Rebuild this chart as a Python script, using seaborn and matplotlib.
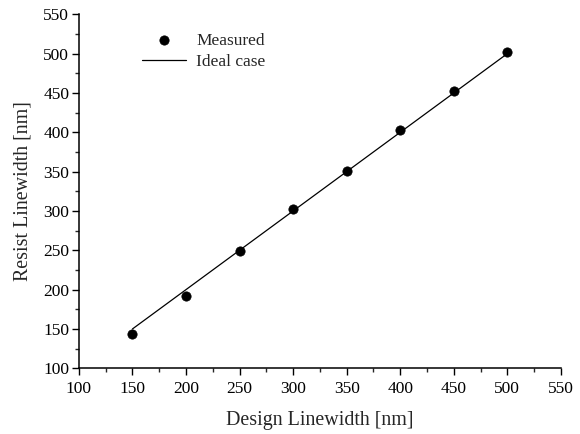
import matplotlib
matplotlib.use("Agg")
import matplotlib.pyplot as plt
import seaborn as sns
import pandas as pd
from matplotlib.ticker import MultipleLocator, AutoMinorLocator

# Measured resist linewidth versus design linewidth (nm)
design_nm = [150, 200, 250, 300, 350, 400, 450, 500]
resist_nm = [144, 192, 249, 303, 351, 403, 453, 502]

# Ideal 1:1 transfer
ideal_x = [150, 500]
ideal_y = [150, 500]

sns.set_style("ticks")
plt.rcParams["font.family"] = ["Liberation Serif", "DejaVu Serif"]
plt.rcParams["mathtext.fontset"] = "stix"

fig = plt.figure(figsize=(5.8, 4.34), dpi=100)
ax = fig.add_axes([0.136, 0.1514, 0.831, 0.8156])

measured = pd.DataFrame({"design": design_nm, "resist": resist_nm})
ideal = pd.DataFrame({"design": ideal_x, "resist": ideal_y})

sns.lineplot(data=ideal, x="design", y="resist", ax=ax, color="black",
             linewidth=0.9, label="Ideal case")
sns.scatterplot(data=measured, x="design", y="resist", ax=ax, color="black",
                s=45, edgecolor="black", linewidth=0.5, label="Measured", zorder=3)

ax.set_xlim(100, 550)
ax.set_ylim(100, 550)
ax.xaxis.set_major_locator(MultipleLocator(50))
ax.yaxis.set_major_locator(MultipleLocator(50))
ax.xaxis.set_minor_locator(AutoMinorLocator(2))
ax.yaxis.set_minor_locator(AutoMinorLocator(2))

ax.tick_params(which="major", direction="out", length=5, width=1.0,
               labelsize=12.5, colors="black")
ax.tick_params(axis="x", which="major", pad=4)
ax.tick_params(axis="y", which="major", pad=2)
ax.tick_params(which="minor", direction="out", length=3, width=1.0)

sns.despine(ax=ax)
for side in ("left", "bottom"):
    ax.spines[side].set_linewidth(1.1)
    ax.spines[side].set_color("black")

ax.set_xlabel("Design Linewidth [nm]", fontsize=14.4, labelpad=10)
ax.set_ylabel("Resist Linewidth [nm]", fontsize=14.4, labelpad=8)

handles, labels = ax.get_legend_handles_labels()
order = [labels.index("Measured"), labels.index("Ideal case")]
ax.legend([handles[i] for i in order], [labels[i] for i in order],
          loc="upper left", bbox_to_anchor=(0.117, 0.968), frameon=False,
          fontsize=12.5, handlelength=2.5, handletextpad=0.6,
          labelspacing=0.3, borderaxespad=0.0)

fig.savefig("out.png", dpi=100)
